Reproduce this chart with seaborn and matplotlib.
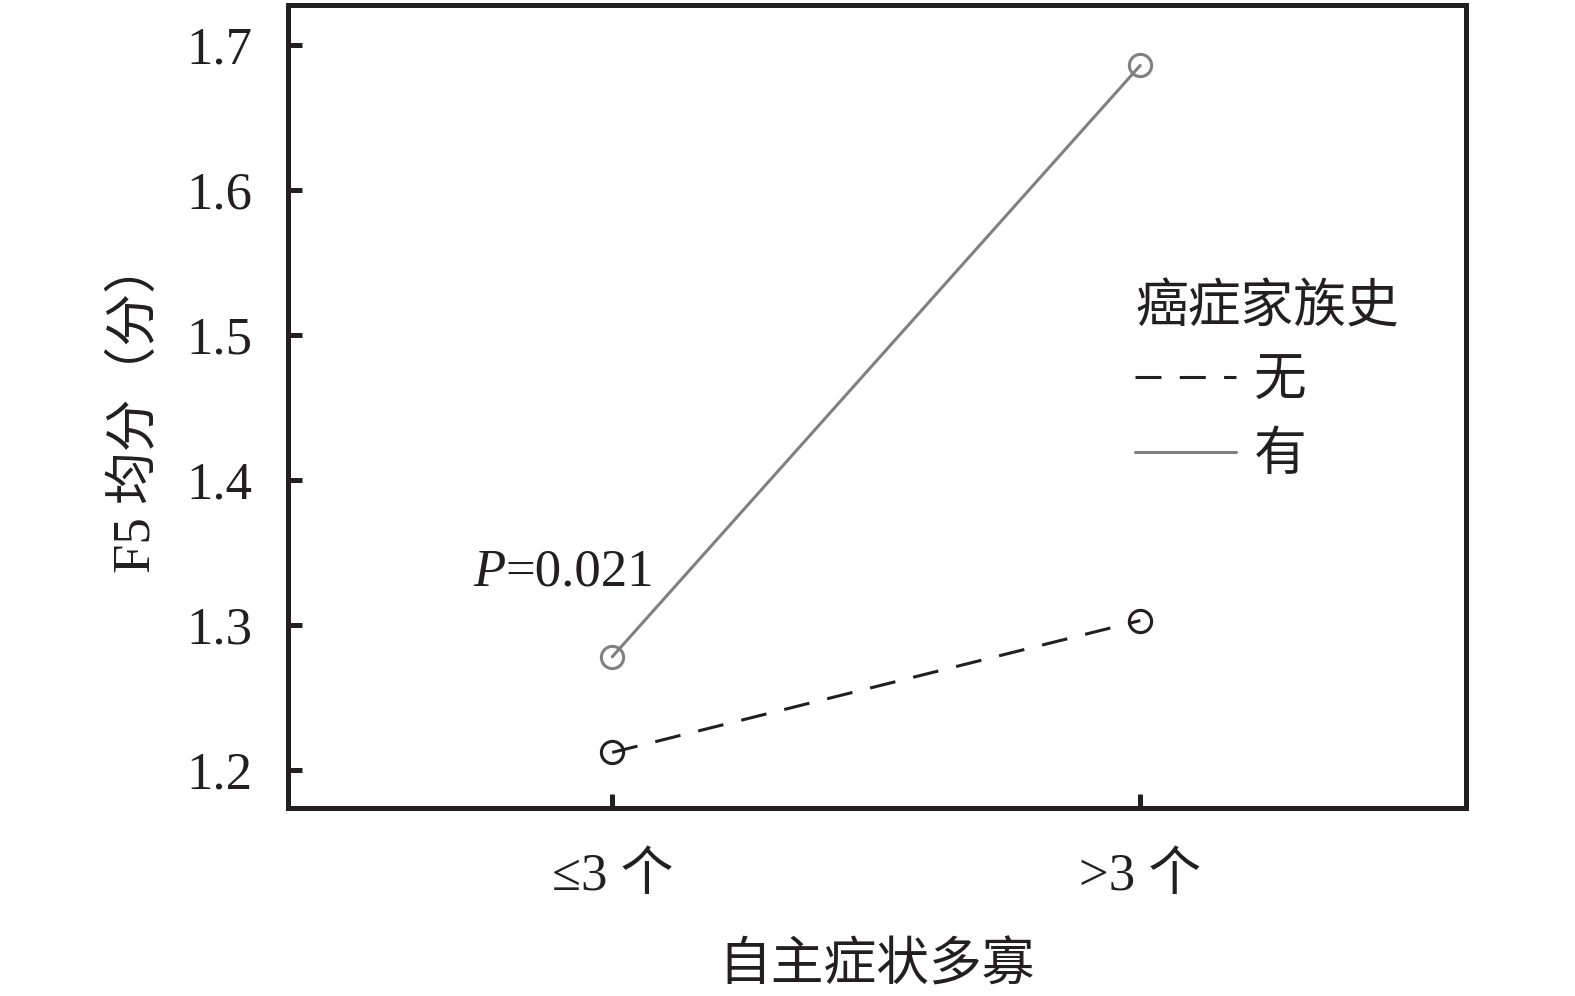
import pandas as pd
import seaborn as sns
import matplotlib.pyplot as plt
from matplotlib.lines import Line2D

# Daten
kategorien = ['≤3 个', '>3 个']
gruppen = ['无', '有']
werte_ohne = [1.212, 1.303]
werte_mit = [1.278, 1.686]

df = pd.DataFrame({
    'x': kategorien * 2,
    'pos': [0, 1, 0, 1],
    'gruppe': [gruppen[0]] * 2 + [gruppen[1]] * 2,
    'wert': werte_ohne + werte_mit,
})

sns.set_style('white')
plt.rcParams['font.family'] = ['Liberation Serif', 'Noto Sans CJK SC']
plt.rcParams['axes.unicode_minus'] = False

fig = plt.figure(figsize=(15.75, 9.96), dpi=100)
ax = fig.add_axes([0.1829, 0.1888, 0.7479, 0.8062])

farben = {'无': '#231f20', '有': '#808080'}
stile = {'无': (0, (8.5, 6)), '有': '-'}

for g in gruppen:
    sub = df[df['gruppe'] == g]
    sns.lineplot(data=sub, x='pos', y='wert', ax=ax, color=farben[g],
                 linewidth=2.2, marker='o', markersize=16,
                 markerfacecolor='none', markeredgecolor=farben[g],
                 markeredgewidth=2.2, legend=False)
    ax.lines[-1].set_linestyle(stile[g])

ax.set_xlim(-0.614, 1.617)
ax.set_ylim(1.1737, 1.7277)
ax.set_xticks([0, 1])
ax.set_xticklabels(kategorien)
ax.set_yticks([1.2, 1.3, 1.4, 1.5, 1.6, 1.7])
ax.set_yticklabels(['1.2', '1.3', '1.4', '1.5', '1.6', '1.7'])

for s in ax.spines.values():
    s.set_visible(True)
    s.set_linewidth(3.6)
    s.set_color('#231f20')

ax.tick_params(axis='both', direction='in', length=10, width=3.6,
               color='#231f20', labelsize=38, labelcolor='#231f20',
               left=True, bottom=True)
ax.tick_params(axis='x', pad=32)
ax.tick_params(axis='y', pad=26)

ax.set_xlabel('自主症状多寡', fontsize=38, color='#231f20', labelpad=30)
ax.set_ylabel('F5 均分（分）', fontsize=38, color='#231f20', labelpad=18)

ax.text(-0.203, 1.336, 'P', fontsize=38, color='#231f20', fontstyle='italic',
        ha='right', va='center')
ax.text(-0.203, 1.336, '=0.021', fontsize=38, color='#231f20',
        ha='left', va='center')

handles = [Line2D([], [], color=farben['无'], linestyle=stile['无'], linewidth=2.2),
           Line2D([], [], color=farben['有'], linestyle='-', linewidth=2.2)]
leg = ax.legend(handles, gruppen, title='癌症家族史', frameon=False,
                loc='upper left', bbox_to_anchor=(0.697, 0.685),
                fontsize=38, title_fontsize=38, handlelength=1.9,
                handletextpad=0.35, borderpad=0, labelspacing=0.5)
leg._legend_box.align = 'left'
leg._legend_box.sep = 18
for t in leg.get_texts():
    t.set_color('#231f20')
leg.get_title().set_color('#231f20')

fig.savefig('out.png', dpi=100)
